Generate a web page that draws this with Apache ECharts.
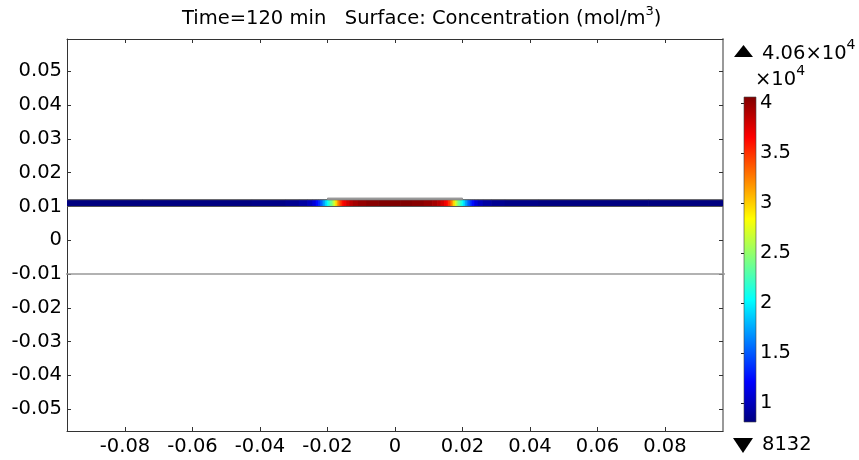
<!DOCTYPE html>
<html><head><meta charset="utf-8">
<script src="https://cdn.jsdelivr.net/npm/echarts@6/dist/echarts.min.js"></script>
<style>html,body{margin:0;padding:0;background:#fff}#c{width:859px;height:460px}</style>
</head><body><div id="c"></div>
<script>
// ---- data ----
const xTicks = [-0.08, -0.06, -0.04, -0.02, 0, 0.02, 0.04, 0.06, 0.08];
const yTicks = [-0.05, -0.04, -0.03, -0.02, -0.01, 0, 0.01, 0.02, 0.03, 0.04, 0.05];
const cbTicks = [10000, 15000, 20000, 25000, 30000, 35000, 40000];
const cMin = 8132, cMax = 40600;
// concentration along the strip (x in m, c in mol/m^3)
const profileX = [-0.1, -0.05, -0.035, -0.03, -0.027, -0.025, -0.024, -0.023, -0.0225, -0.022, -0.0215, -0.021, -0.0205, -0.02, -0.0195, -0.019, -0.0185, -0.018, -0.0175, -0.017, -0.0165, -0.016, -0.0155, -0.015, -0.014, -0.013, -0.012, -0.01, -0.007, -0.003, 0,
  0.003, 0.007, 0.01, 0.012, 0.013, 0.014, 0.015, 0.0155, 0.016, 0.0165, 0.017, 0.0175, 0.018, 0.0185, 0.019, 0.0195, 0.02, 0.0205, 0.021, 0.0215, 0.022, 0.0225, 0.023, 0.024, 0.025, 0.027, 0.03, 0.035, 0.05, 0.1];
const profileC = [8132, 8200, 8400, 8700, 9200, 10000, 11000, 12500, 13600, 14800, 16000, 17500, 19000, 20500, 22000, 23500, 25000, 27000, 29500, 31500, 33500, 35000, 36200, 37000, 38000, 38800, 39400, 39900, 40300, 40550, 40600,
  40550, 40300, 39900, 39400, 38800, 38000, 37000, 36200, 35000, 33500, 31500, 29500, 27000, 25000, 23500, 22000, 20500, 19000, 17500, 16000, 14800, 13600, 12500, 11000, 10000, 9200, 8700, 8400, 8200, 8132];
// geometry
const stripY = [0.01, 0.012];
const electrodeX = [-0.02, 0.02];
const electrodeY = [0.012, 0.0125];
const boundaryLine = [[-0.1, -0.01], [0.1, -0.01]];
const XMIN = -0.0972, XMAX = 0.0972, YMIN = -0.0565, YMAX = 0.0596;

const cells = profileX.map((x, i) => {
  const xl = i === 0 ? x : (profileX[i - 1] + x) / 2;
  const xr = i === profileX.length - 1 ? x : (x + profileX[i + 1]) / 2;
  return [xl, xr, profileC[i]];
});

const FONT = 'DejaVu Sans';
const FS = 19.5;
const jet = ['#00007f', '#0000ff', '#007fff', '#00ffff', '#7fff7f', '#ffff00', '#ff7f00', '#ff0000', '#7f0000'];

const chart = echarts.init(document.getElementById('c'), null, {renderer: 'canvas'});
const axBase = (extra) => Object.assign({
  type: 'value', splitLine: {show: false},
  axisLine: {show: true, onZero: false, lineStyle: {color: '#333', width: 1}},
}, extra);

chart.setOption({
  animation: false,
  backgroundColor: '#fff',
  grid: [
    {left: 67, top: 39, width: 656, height: 392},
    {left: 744, top: 97, width: 12, height: 325}
  ],
  xAxis: [
    axBase({gridIndex: 0, position: 'bottom', min: XMIN, max: XMAX,
      axisTick: {inside: true, length: 4, customValues: xTicks, lineStyle: {color: '#333'}},
      axisLabel: {customValues: xTicks, fontSize: FS, fontFamily: FONT, color: '#000', margin: 6}}),
    axBase({gridIndex: 0, position: 'top', min: XMIN, max: XMAX,
      axisTick: {inside: true, length: 4, customValues: xTicks, lineStyle: {color: '#333'}},
      axisLabel: {show: false}}),
    {type: 'value', gridIndex: 1, min: 0, max: 1, show: false}
  ],
  yAxis: [
    axBase({gridIndex: 0, position: 'left', min: YMIN, max: YMAX,
      axisTick: {inside: true, length: 4, customValues: yTicks, lineStyle: {color: '#333'}},
      axisLabel: {customValues: yTicks, fontSize: FS, fontFamily: FONT, color: '#000', margin: 5}}),
    axBase({gridIndex: 0, position: 'right', min: YMIN, max: YMAX,
      axisLine: {show: true, onZero: false, lineStyle: {color: '#999', width: 2}},
      axisTick: {inside: true, length: 4, customValues: yTicks, lineStyle: {color: '#333'}},
      axisLabel: {show: false}}),
    {type: 'value', gridIndex: 1, position: 'right', min: cMin, max: cMax, splitLine: {show: false},
      axisLine: {show: false},
      axisTick: {inside: true, length: 3, customValues: cbTicks, lineStyle: {color: '#222'}},
      axisLabel: {customValues: cbTicks, fontSize: FS, fontFamily: FONT, color: '#000', margin: 4,
        formatter: v => String(v / 10000)}}
  ],
  visualMap: {
    type: 'continuous', show: false, min: cMin, max: cMax, dimension: 2, seriesIndex: 0,
    inRange: {color: jet}
  },
  series: [
    {
      type: 'custom', xAxisIndex: 0, yAxisIndex: 0, clip: true,
      dimensions: ['xl', 'xr', 'c'], encode: {x: [0, 1]},
      data: cells,
      renderItem: (params, api) => {
        const p0 = api.coord([api.value(0), stripY[1]]);
        const p1 = api.coord([api.value(1), stripY[0]]);
        return {type: 'rect', shape: {x: p0[0], y: p0[1], width: p1[0] - p0[0] + 0.7, height: p1[1] - p0[1]},
          style: {fill: api.visual('color')}};
      }
    },
    {
      type: 'custom', xAxisIndex: 0, yAxisIndex: 0, clip: true,
      data: [[profileX[0], profileX[profileX.length - 1]]],
      renderItem: (params, api) => {
        const s0 = api.coord([api.value(0), stripY[1]]);
        const s1 = api.coord([api.value(1), stripY[0]]);
        const e0 = api.coord([electrodeX[0], electrodeY[1]]);
        const e1 = api.coord([electrodeX[1], electrodeY[0]]);
        return {type: 'group', children: [
          {type: 'rect', shape: {x: s0[0], y: s0[1], width: s1[0] - s0[0], height: s1[1] - s0[1]},
            style: {fill: null, stroke: '#555', lineWidth: 1}},
          {type: 'rect', shape: {x: e0[0], y: e0[1], width: e1[0] - e0[0], height: e1[1] - e0[1]},
            style: {fill: '#a6a6a6', stroke: '#888', lineWidth: 0.8}}
        ]};
      }
    },
    {
      type: 'line', xAxisIndex: 0, yAxisIndex: 0, data: boundaryLine, symbol: 'none',
      lineStyle: {color: '#999', width: 1.5}, clip: true, silent: true
    },
    {
      // colour bar drawn on its own axis
      type: 'custom', xAxisIndex: 2, yAxisIndex: 2, silent: true,
      data: [[cMin, cMax]],
      renderItem: (params, api) => {
        const top = api.coord([0, api.value(1)]);
        const bot = api.coord([1, api.value(0)]);
        const stops = jet.map((c, i) => ({offset: 1 - i / (jet.length - 1), color: c}));
        return {type: 'rect', shape: {x: top[0], y: top[1], width: bot[0] - top[0], height: bot[1] - top[1]},
          style: {fill: new echarts.graphic.LinearGradient(0, 0, 0, 1, stops.reverse()), stroke: '#444', lineWidth: 0.6}};
      }
    }
  ],
  graphic: [
    {type: 'text', left: 182, top: 5, style: {
      text: '{a|Time=120 min   Surface: Concentration (mol/m}{s|3}{a|)}',
      rich: {a: {fontSize: FS, fontFamily: FONT, fill: '#000', verticalAlign: 'bottom', lineHeight: 24},
             s: {fontSize: 13, fontFamily: FONT, fill: '#000', verticalAlign: 'top', lineHeight: 24}}}},
    {type: 'polygon', shape: {points: [[734, 57], [753, 57], [743.5, 45]]}, style: {fill: '#000'}},
    {type: 'text', left: 762, top: 38, style: {
      text: '{a|4.06×10}{s|4}',
      rich: {a: {fontSize: FS, fontFamily: FONT, fill: '#000', verticalAlign: 'bottom', lineHeight: 26},
             s: {fontSize: 14, fontFamily: FONT, fill: '#000', verticalAlign: 'top', lineHeight: 26}}}},
    {type: 'text', left: 755, top: 64, style: {
      text: '{a|×10}{s|4}',
      rich: {a: {fontSize: FS, fontFamily: FONT, fill: '#000', verticalAlign: 'bottom', lineHeight: 26},
             s: {fontSize: 14, fontFamily: FONT, fill: '#000', verticalAlign: 'top', lineHeight: 26}}}},
    {type: 'polygon', shape: {points: [[733, 438], [753, 438], [743, 453]]}, style: {fill: '#000'}},
    {type: 'text', left: 762, top: 435, style: {text: '8132', fontSize: FS, fontFamily: FONT, fill: '#000'}}
  ]
});
</script>
</body></html>
